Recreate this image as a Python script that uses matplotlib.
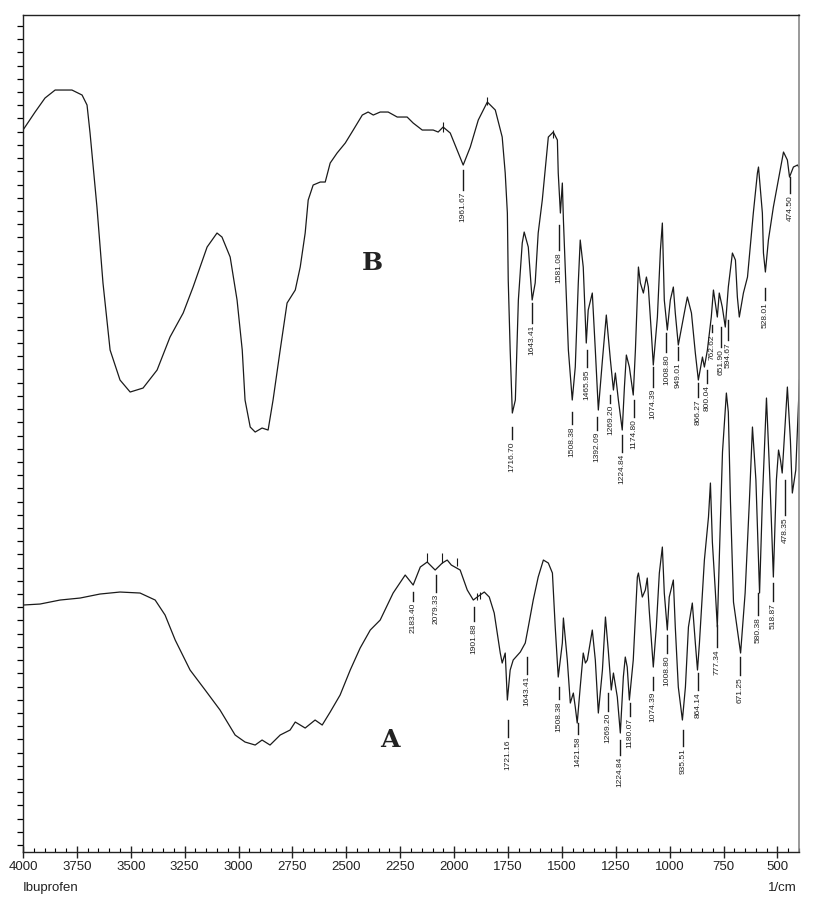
import matplotlib
matplotlib.use("Agg")
import matplotlib.pyplot as plt
from matplotlib.ticker import MultipleLocator, FixedLocator, NullFormatter

# spectrum B (upper trace): wavenumber (1/cm) and transmittance (arb. units)
b_wn = [4000, 3944, 3898, 3851, 3773, 3726, 3703, 3689, 3657, 3629, 3596, 3550, 3503, 3443,
        3378, 3318, 3257, 3211, 3146, 3100, 3077, 3039, 3007, 2983, 2970, 2946, 2923, 2891,
        2863, 2840, 2807, 2775, 2737, 2714, 2691, 2677, 2654, 2621, 2598, 2575, 2543, 2505,
        2468, 2426, 2399, 2375, 2343, 2306, 2264, 2218, 2190, 2148, 2097, 2074, 2051, 2018,
        1986, 1958, 1925, 1888, 1846, 1809, 1777, 1763, 1753, 1749, 1740, 1730, 1716, 1702,
        1684, 1675, 1656, 1638, 1624, 1610, 1591, 1563, 1540, 1521, 1517, 1507, 1498, 1493,
        1470, 1452, 1438, 1424, 1415, 1401, 1387, 1378, 1359, 1345, 1331, 1312, 1294, 1275,
        1261, 1252, 1238, 1220, 1210, 1201, 1187, 1169, 1159, 1145, 1136, 1122, 1108, 1099,
        1085, 1076, 1057, 1043, 1034, 1025, 1011, 997, 983, 974, 960, 941, 927, 918, 899,
        881, 867, 848, 839, 825, 807, 797, 779, 770, 756, 742, 728, 709, 695, 686, 677, 658,
        639, 612, 593, 588, 570, 565, 556, 542, 519, 496, 472, 454, 444, 426, 407, 398]
b_t = [72.2, 74.0, 75.4, 76.2, 76.2, 75.7, 74.7, 71.9, 64.5, 56.9, 50.2, 47.2, 46.0, 46.4,
       48.2, 51.5, 53.9, 56.5, 60.5, 61.9, 61.5, 59.5, 55.2, 50.2, 45.2, 42.5, 42.0, 42.4,
       42.2, 45.2, 50.2, 54.9, 56.2, 58.5, 61.9, 65.2, 66.7, 67.0, 67.0, 68.9, 69.9, 70.9,
       72.2, 73.7, 74.0, 73.7, 74.0, 74.0, 73.5, 73.5, 72.9, 72.2, 72.2, 72.0, 72.5, 71.9,
       70.2, 68.7, 70.5, 73.2, 75.0, 74.2, 71.5, 67.9, 63.9, 57.2, 50.2, 43.9, 45.2, 55.2,
       60.9, 62.0, 60.5, 55.2, 56.9, 61.9, 65.2, 71.5, 72.0, 71.2, 67.9, 63.9, 66.9, 63.2,
       50.2, 45.2, 48.5, 56.9, 61.2, 58.5, 50.9, 54.2, 55.9, 50.2, 44.2, 49.2, 53.7, 49.2,
       46.2, 47.9, 45.2, 42.2, 46.5, 49.7, 48.5, 45.7, 50.2, 58.5, 56.9, 55.9, 57.5, 56.5,
       51.9, 48.7, 53.5, 60.2, 62.9, 55.2, 52.2, 55.2, 56.5, 53.9, 50.7, 52.9, 54.5, 55.5, 53.9,
       49.9, 47.2, 49.5, 48.5, 50.2, 53.5, 56.2, 53.5, 55.9, 54.5, 52.5, 56.5, 59.9, 59.2, 55.5, 53.5, 55.9,
       57.5, 63.9, 67.9, 68.5, 63.9, 59.9, 58.0, 61.2, 64.5, 67.2, 70.0, 69.2, 67.5, 68.5, 68.7, 68.4]

# spectrum A (lower trace)
a_wn = [4000, 3921, 3828, 3735, 3643, 3550, 3457, 3387, 3341, 3294, 3225, 3155, 3086, 3016,
        2970, 2923, 2891, 2854, 2807, 2761, 2737, 2691, 2645, 2612, 2575, 2529, 2482, 2436,
        2389, 2343, 2283, 2227, 2190, 2157, 2125, 2088, 2055, 2032, 2013, 1972, 1939, 1911,
        1893, 1860, 1837, 1814, 1786, 1777, 1763, 1753, 1740, 1726, 1693, 1670, 1656, 1633,
        1610, 1586, 1563, 1544, 1531, 1517, 1498, 1493, 1475, 1461, 1447, 1438, 1429, 1415,
        1401, 1391, 1382, 1359, 1345, 1331, 1312, 1298, 1285, 1271, 1261, 1243, 1229, 1215,
        1206, 1197, 1187, 1169, 1150, 1145, 1127, 1113, 1104, 1095, 1076, 1062, 1048, 1034,
        1025, 1011, 1002, 983, 974, 960, 941, 927, 913, 895, 881, 871, 862, 848, 839, 820,
        811, 802, 788, 779, 769, 755, 737, 728, 718, 704, 671, 650, 630, 616, 600, 583, 570,
        551, 535, 519, 505, 495, 486, 478, 463, 454, 440, 431, 415, 398]
a_t = [24.7, 24.8, 25.2, 25.4, 25.8, 26.0, 25.9, 25.2, 23.7, 21.2, 18.2, 16.2, 14.2, 11.7,
       11.0, 10.7, 11.2, 10.7, 11.7, 12.2, 13.0, 12.4, 13.2, 12.7, 14.0, 15.7, 18.2, 20.4,
       22.2, 23.2, 25.9, 27.7, 26.7, 28.5, 29.0, 28.2, 28.9, 29.2, 28.7, 28.2, 26.2, 25.2,
       25.5, 26.0, 25.5, 23.9, 19.9, 18.9, 19.9, 15.2, 18.2, 19.2, 20.0, 20.9, 22.5, 25.2,
       27.5, 29.2, 28.9, 27.9, 22.5, 17.5, 20.9, 23.4, 19.2, 14.9, 15.9, 14.5, 12.9, 16.5,
       19.9, 18.9, 19.2, 22.2, 19.2, 13.9, 18.2, 23.5, 20.2, 16.2, 17.9, 15.5, 11.9, 17.5,
       19.5, 18.5, 15.2, 19.2, 27.5, 27.9, 25.5, 26.2, 27.4, 24.2, 18.5, 22.5, 27.9, 30.5,
       25.9, 22.2, 25.5, 27.2, 22.5, 16.5, 13.2, 16.5, 22.5, 24.9, 20.9, 18.2, 20.9, 25.9, 29.2, 33.5,
       36.9, 31.0, 26.0, 22.5, 30.0, 40.0, 45.9, 44.0, 35.0, 25.0, 19.9, 25.9, 35.2, 42.5, 37.2, 25.9, 35.2,
       45.4, 37.2, 27.5, 37.2, 40.2, 39.2, 37.9, 43.2, 46.5, 41.2, 35.9, 38.2, 47.2]

# peak labels: position, text, top of leader, top of text
b_pk_wn = [1958, 1730, 1638, 1512, 1452, 1382, 1336, 1275, 1220, 1164, 1076, 1015, 960,
           867, 825, 802, 760, 728, 556, 440]
b_pk_txt = ["1961.67", "1716.70", "1643.41", "1581.08", "1508.38", "1465.95", "1392.09",
            "1269.20", "1224.84", "1174.80", "1074.39", "1008.80", "949.01", "866.27",
            "800.04", "762.62", "651.90", "594.67", "528.01", "474.50"]
b_pk_lead = [68.2, 42.5, 54.9, 62.7, 44.0, 50.2, 43.5, 45.7, 41.7, 45.2, 48.5, 51.9, 50.5,
             46.9, 48.2, 52.7, 52.5, 53.2, 56.4, 67.5]
b_pk_txt_y = [66.0, 41.1, 52.7, 60.0, 42.6, 48.3, 42.0, 44.7, 39.8, 43.3, 46.3, 49.8, 49.0,
              45.3, 46.7, 51.8, 50.3, 51.0, 55.0, 65.7]

a_pk_wn = [2190, 2083, 1907, 1749, 1661, 1512, 1424, 1285, 1229, 1183, 1076, 1011, 937,
           867, 779, 673, 588, 519, 463]
a_pk_txt = ["2183.40", "2079.33", "1901.88", "1721.16", "1643.41", "1508.38", "1421.58",
            "1269.20", "1224.84", "1180.07", "1074.39", "1008.80", "935.51", "864.14",
            "777.34", "671.25", "580.38", "518.87", "478.35"]
a_pk_lead = [26.0, 27.7, 24.5, 13.2, 19.5, 16.5, 12.9, 15.9, 11.2, 14.9, 17.5, 21.7, 12.2,
             17.9, 22.7, 19.5, 25.9, 26.9, 37.2]
a_pk_txt_y = [24.9, 25.8, 22.9, 11.3, 17.6, 15.1, 11.6, 13.9, 9.5, 13.4, 16.0, 19.7, 10.4,
              16.0, 20.3, 17.5, 23.5, 24.9, 33.5]

# small peak-pick marks sitting on the traces: position, low end, high end
mark_wn = [2051, 1846, 1540, 2125, 2055, 1986, 1893, 1879]
mark_lo = [72.0, 74.7, 71.4, 29.0, 28.9, 28.6, 25.2, 25.3]
mark_hi = [73.0, 75.5, 72.2, 29.9, 29.9, 29.4, 25.9, 26.0]

fig = plt.figure(figsize=(8.19, 9.14), dpi=100)
ax = fig.add_axes([0.0281, 0.0678, 0.9475, 0.9163])

line_col = "#1a1a1a"
ax.plot(b_wn, b_t, color=line_col, lw=0.9)
ax.plot(a_wn, a_t, color=line_col, lw=0.9)
ax.vlines(mark_wn, mark_lo, mark_hi, color=line_col, lw=0.8)

for wn, txt, y0, y1 in zip(b_pk_wn + a_pk_wn, b_pk_txt + a_pk_txt,
                           b_pk_lead + a_pk_lead, b_pk_txt_y + a_pk_txt_y):
    ax.plot([wn, wn], [y0, y1 + 0.2], color=line_col, lw=1.0)
    ax.text(wn, y1, txt, rotation=90, ha="center", va="top", fontsize=6.0,
            family="Liberation Sans", color="#222222")

ax.text(2380, 58.9, "B", fontsize=18, fontweight="bold", family="DejaVu Serif",
        ha="center", va="center", color="#222222")
ax.text(2297, 11.2, "A", fontsize=18, fontweight="bold", family="DejaVu Serif",
        ha="center", va="center", color="#222222")

ax.set_xlim(4000, 400)
ax.set_ylim(0, 83.75)

ax.xaxis.set_major_locator(FixedLocator([4000, 3750, 3500, 3250, 3000, 2750, 2500, 2250,
                                         2000, 1750, 1500, 1250, 1000, 750, 500]))
ax.xaxis.set_minor_locator(MultipleLocator(50))
ax.tick_params(axis="x", which="major", direction="inout", length=9, width=1, pad=2,
               labelsize=9.5, colors="#222222")
ax.tick_params(axis="x", which="minor", direction="in", length=3, width=0.8)
for lab in ax.get_xticklabels():
    lab.set_family("Liberation Sans")

y_ticks = [0.7 + 1.321 * k for k in range(63)]
ax.yaxis.set_major_locator(FixedLocator(y_ticks))
ax.yaxis.set_major_formatter(NullFormatter())
ax.tick_params(axis="y", which="major", direction="out", length=4, width=0.9)

for side in ["top", "left", "bottom"]:
    ax.spines[side].set_color("#222222")
    ax.spines[side].set_linewidth(1.0)
ax.spines["right"].set_color("#888888")
ax.spines["right"].set_linewidth(1.2)

fig.text(23 / 819, 1 - 888 / 914, "Ibuprofen", fontsize=9.5, family="Liberation Sans",
         ha="left", va="center", color="#222222")
fig.text(797 / 819, 1 - 888 / 914, "1/cm", fontsize=9.5, family="Liberation Sans",
         ha="right", va="center", color="#222222")

fig.savefig("out.png", dpi=100)
